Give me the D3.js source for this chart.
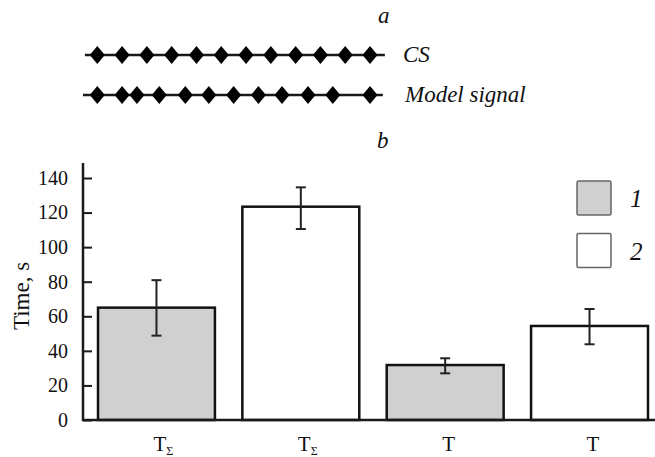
<!DOCTYPE html>
<html>
<head>
<meta charset="utf-8">
<script src="https://cdn.jsdelivr.net/npm/d3@7"></script>
<style>
html,body{margin:0;padding:0;background:#fff;}
svg{display:block;}
svg text{font-family:"Liberation Serif","DejaVu Serif","Times New Roman",serif !important;fill:#111;}
</style>
</head>
<body>
<svg id="chart" width="655" height="457"></svg>
<script>
// ---- data ----
const categoryMain = ["T", "T", "T", "T"];
const categorySub  = ["Σ", "Σ", "", ""];
const categorySeries = [1, 2, 1, 2];
const values   = [65, 123.4, 31.8, 54.4];
const errLow   = [48.8, 110.5, 27, 43.8];
const errHigh  = [80.9, 134.6, 35.7, 64.2];
const yTicks   = [0, 20, 40, 60, 80, 100, 120, 140];
const legendLabels = ["1", "2"];
const signalNames = ["CS", "Model signal"];
const csTimes    = [0, 1, 2, 3, 4, 5, 6, 7, 8, 9, 10, 11];
const modelTimes = [0, 1, 1.6, 2.5, 3.55, 4.5, 5.5, 6.5, 7.45, 8.5, 9.5, 11];
const signalSpan = [-0.5, 11.6];
const panelLabels = ["a", "b"];
const yLabel = "Time, s";

const svg = d3.select("#chart");
const fills = {1: "#d0d0d0", 2: "#ffffff"};
const serif = "'Liberation Serif', 'DejaVu Serif', serif";

// ---- panel a ----
const xs = d3.scaleLinear().domain([0, 11]).range([97.3, 370]);
const sigY = [55, 95];
[csTimes, modelTimes].forEach((times, i) => {
  const g = svg.append("g");
  g.append("line")
    .attr("x1", xs(signalSpan[0]) - (i ? 2 : 0)).attr("x2", xs(signalSpan[1]) - (i ? 2 : 0))
    .attr("y1", sigY[i]).attr("y2", sigY[i])
    .attr("stroke", "#1a1a1a").attr("stroke-width", 2.5);
  g.selectAll("path").data(times).join("path")
    .attr("d", d => {
      const cx = xs(d), cy = sigY[i];
      return `M${cx},${cy-9}L${cx+7.5},${cy}L${cx},${cy+9}L${cx-7.5},${cy}Z`;
    })
    .attr("fill", "#000");
  g.append("text")
    .attr("x", i ? 405 : 403).attr("y", sigY[i] + 7)
    .style("font-family", serif)
    .attr("font-size", 23).attr("font-style", "italic")
    .text(signalNames[i]);
});
svg.append("text").attr("x", 378).attr("y", 23).attr("font-size", 23).style("font-family", serif)
  .attr("font-style", "italic").text(panelLabels[0]);
svg.append("text").attr("x", 377).attr("y", 148).attr("font-size", 23).style("font-family", serif)
  .attr("font-style", "italic").text(panelLabels[1]);

// ---- panel b ----
const y = d3.scaleLinear().domain([0, 140]).range([420, 178]);
const x = d3.scaleBand().domain(d3.range(values.length))
  .range([84.3, 661.7]).paddingInner(0.19).paddingOuter(0.095);

// y axis
const yAxis = d3.axisLeft(y).tickValues(yTicks).tickSizeInner(-9).tickSizeOuter(0).tickPadding(15);
const ga = svg.append("g").attr("transform", "translate(83,0)").call(yAxis);
ga.attr("font-family", null);
ga.select(".domain").remove();
ga.selectAll(".tick line").attr("stroke", "#1a1a1a").attr("stroke-width", 2);
ga.selectAll(".tick text").attr("font-size", 20).style("font-family", serif).attr("fill", "#111");
svg.append("line").attr("x1", 83).attr("x2", 83).attr("y1", y(0) + 1).attr("y2", y(140) - 15)
  .attr("stroke", "#1a1a1a").attr("stroke-width", 2.5);

// bars
svg.append("g").selectAll("rect").data(values).join("rect")
  .attr("x", (d, i) => x(i)).attr("width", x.bandwidth())
  .attr("y", d => y(d)).attr("height", d => y(0) - y(d))
  .attr("fill", (d, i) => fills[categorySeries[i]])
  .attr("stroke", "#111").attr("stroke-width", 2.5);

// baseline
svg.append("line").attr("x1", 82).attr("x2", 655).attr("y1", y(0)).attr("y2", y(0))
  .attr("stroke", "#1a1a1a").attr("stroke-width", 2.5);

// error bars
const eg = svg.append("g").attr("stroke", "#222").attr("stroke-width", 2);
values.forEach((v, i) => {
  const cx = x(i) + x.bandwidth() / 2;
  eg.append("line").attr("x1", cx).attr("x2", cx).attr("y1", y(errLow[i])).attr("y2", y(errHigh[i]));
  eg.append("line").attr("x1", cx - 5).attr("x2", cx + 5).attr("y1", y(errLow[i])).attr("y2", y(errLow[i]));
  eg.append("line").attr("x1", cx - 5).attr("x2", cx + 5).attr("y1", y(errHigh[i])).attr("y2", y(errHigh[i]));
});

// x labels
const xl = svg.append("g");
values.forEach((v, i) => {
  const cx = x(i) + x.bandwidth() / 2;
  const t = xl.append("text").attr("x", cx - 3).attr("y", 451).attr("font-size", 21).style("font-family", serif);
  t.append("tspan").text(categoryMain[i]);
  if (categorySub[i]) t.append("tspan").attr("dy", 4).attr("font-size", 12).text(categorySub[i]);
});

// y label
svg.append("text").attr("transform", "translate(29,296) rotate(-90)")
  .attr("text-anchor", "middle").attr("font-size", 23).style("font-family", serif).text(yLabel);

// legend
legendLabels.forEach((l, i) => {
  const ly = 181 + i * 52.5;
  svg.append("rect").attr("x", 577).attr("y", ly).attr("width", 34).attr("height", 34)
    .attr("rx", 1.5).attr("fill", fills[i + 1]).attr("stroke", "#666").attr("stroke-width", 1.5);
  svg.append("text").attr("x", 630).attr("y", ly + 26).attr("font-size", 25).style("font-family", serif)
    .attr("font-style", "italic").text(l);
});
</script>
</body>
</html>
